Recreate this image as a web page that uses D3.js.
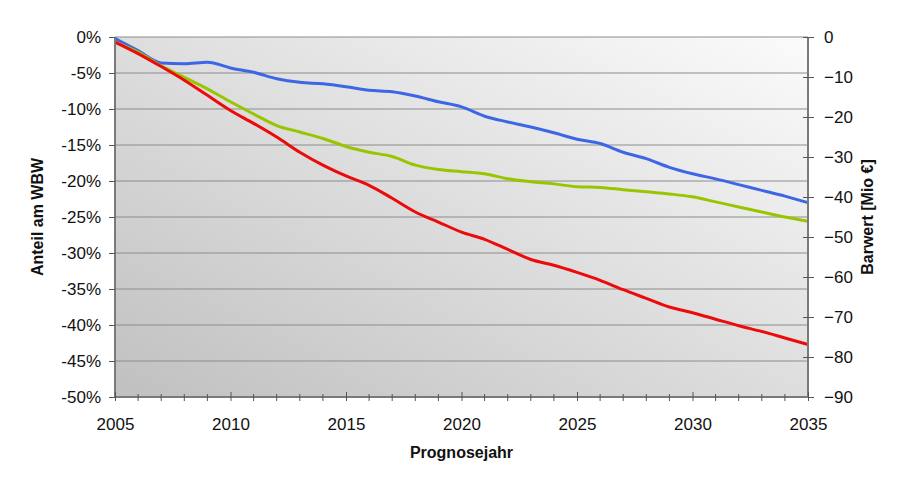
<!DOCTYPE html>
<html lang="de">
<head>
<meta charset="UTF-8">
<title>Prognose Barwert</title>
<script src="https://d3js.org/d3.v7.min.js"></script>
<style>
  body { margin: 0; background: #fff; font-family: "Liberation Sans", Arial, sans-serif; }
  .tick text { font-size: 17px; fill: #111; font-family: "Liberation Sans", Arial, sans-serif; }
  .title { font-size: 16px; font-weight: bold; fill: #111; }
</style>
</head>
<body>
<script>
// data
const years = d3.range(2005, 2036);
const blue = [-0.2, -1.9, -3.6, -3.7, -3.5, -4.3, -4.9, -5.8, -6.3, -6.5, -6.9,
  -7.4, -7.6, -8.2, -9.0, -9.7, -11.0, -11.8, -12.5, -13.3, -14.2,
  -14.8, -16.0, -16.9, -18.1, -19.0, -19.7, -20.5, -21.3, -22.1, -23.0];
const green = [-0.7, -2.1, -4.0, -5.6, -7.2, -9.0, -10.7, -12.3, -13.2, -14.1, -15.2,
  -16.0, -16.6, -17.8, -18.4, -18.7, -19.0, -19.7, -20.1, -20.4, -20.8,
  -20.9, -21.2, -21.5, -21.8, -22.2, -22.9, -23.6, -24.3, -25.0, -25.6];
const red = [-0.7, -2.3, -4.1, -6.0, -8.1, -10.2, -12.0, -13.9, -16.0, -17.8, -19.3,
  -20.6, -22.4, -24.3, -25.7, -27.1, -28.1, -29.5, -30.9, -31.7, -32.7,
  -33.8, -35.1, -36.3, -37.5, -38.3, -39.2, -40.1, -40.9, -41.8, -42.7];
const leftTicks = d3.range(0, -51, -5);
const rightTicks = d3.range(0, -91, -10);
const xTicks = [2005, 2010, 2015, 2020, 2025, 2030, 2035];

const W = 899, H = 486;
const m = { left: 115, right: 91, top: 37, bottom: 89 };

const svg = d3.select("body").append("svg").attr("width", W).attr("height", H);

const x = d3.scaleLinear().domain([2005, 2035]).range([m.left, W - m.right]);
const yL = d3.scaleLinear().domain([-50, 0]).range([H - m.bottom, m.top]);
const yR = d3.scaleLinear().domain([-90, 0]).range([H - m.bottom, m.top]);

// plot background gradient
const grad = svg.append("defs").append("linearGradient")
  .attr("id", "bg").attr("x1", "0%").attr("y1", "100%").attr("x2", "100%").attr("y2", "0%");
grad.append("stop").attr("offset", "0%").attr("stop-color", "#c0c0c0");
grad.append("stop").attr("offset", "100%").attr("stop-color", "#fbfbfb");

svg.append("rect")
  .attr("x", m.left).attr("y", m.top)
  .attr("width", W - m.left - m.right).attr("height", H - m.top - m.bottom)
  .attr("fill", "url(#bg)");

// gridlines
svg.append("g").selectAll("line").data(leftTicks).join("line")
  .attr("x1", m.left).attr("x2", W - m.right)
  .attr("y1", d => yL(d)).attr("y2", d => yL(d))
  .attr("stroke", "#8c8c8c").attr("stroke-width", 1);

// lines
const line = d3.line().x((d, i) => x(years[i])).y(d => yL(d)).curve(d3.curveMonotoneX);
[[blue, "#3d66e6"], [green, "#99c500"], [red, "#ec0a0a"]].forEach(([s, c]) => {
  svg.append("path").datum(s).attr("d", line)
    .attr("fill", "none").attr("stroke", c).attr("stroke-width", 3)
    .attr("stroke-linejoin", "round");
});

// axes
const axL = svg.append("g").attr("transform", `translate(${m.left},0)`)
  .call(d3.axisLeft(yL).tickValues(leftTicks).tickFormat(d => d + "%").tickSize(6).tickPadding(8));
const axR = svg.append("g").attr("transform", `translate(${W - m.right},0)`)
  .call(d3.axisRight(yR).tickValues(rightTicks).tickSize(6).tickPadding(10));
axR.selectAll(".tick line").attr("x1", -5);
const axB = svg.append("g").attr("transform", `translate(0,${H - m.bottom})`)
  .call(d3.axisBottom(x).tickValues(xTicks).tickFormat(d3.format("d")).tickSize(4).tickPadding(17));
axB.selectAll(".tick line").attr("y1", -5);
svg.append("g").attr("transform", `translate(0,${H - m.bottom})`)
  .selectAll("line").data(years.filter(d => d % 5 !== 0)).join("line")
  .attr("x1", d => x(d)).attr("x2", d => x(d)).attr("y1", -3).attr("y2", 4)
  .attr("stroke", "#555");

[axL, axR, axB].forEach(a => {
  a.select(".domain").attr("stroke", "#7a7a7a").attr("stroke-width", 2);
  a.selectAll(".tick line").attr("stroke", "#555");
});
axL.select(".domain").attr("d", `M0,${m.top}V${H - m.bottom}`);
axR.select(".domain").attr("d", `M0,${m.top}V${H - m.bottom}`);
axB.select(".domain").attr("d", `M${m.left},0H${W - m.right}`);

// titles
svg.append("text").attr("class", "title")
  .attr("transform", `translate(43,${(m.top + H - m.bottom) / 2}) rotate(-90)`)
  .attr("text-anchor", "middle").text("Anteil am WBW");
svg.append("text").attr("class", "title")
  .attr("transform", `translate(873,${(m.top + H - m.bottom) / 2}) rotate(-90)`)
  .attr("text-anchor", "middle").text("Barwert [Mio €]");
svg.append("text").attr("class", "title")
  .attr("x", (m.left + W - m.right) / 2).attr("y", 458)
  .attr("text-anchor", "middle").text("Prognosejahr");
</script>
</body>
</html>
